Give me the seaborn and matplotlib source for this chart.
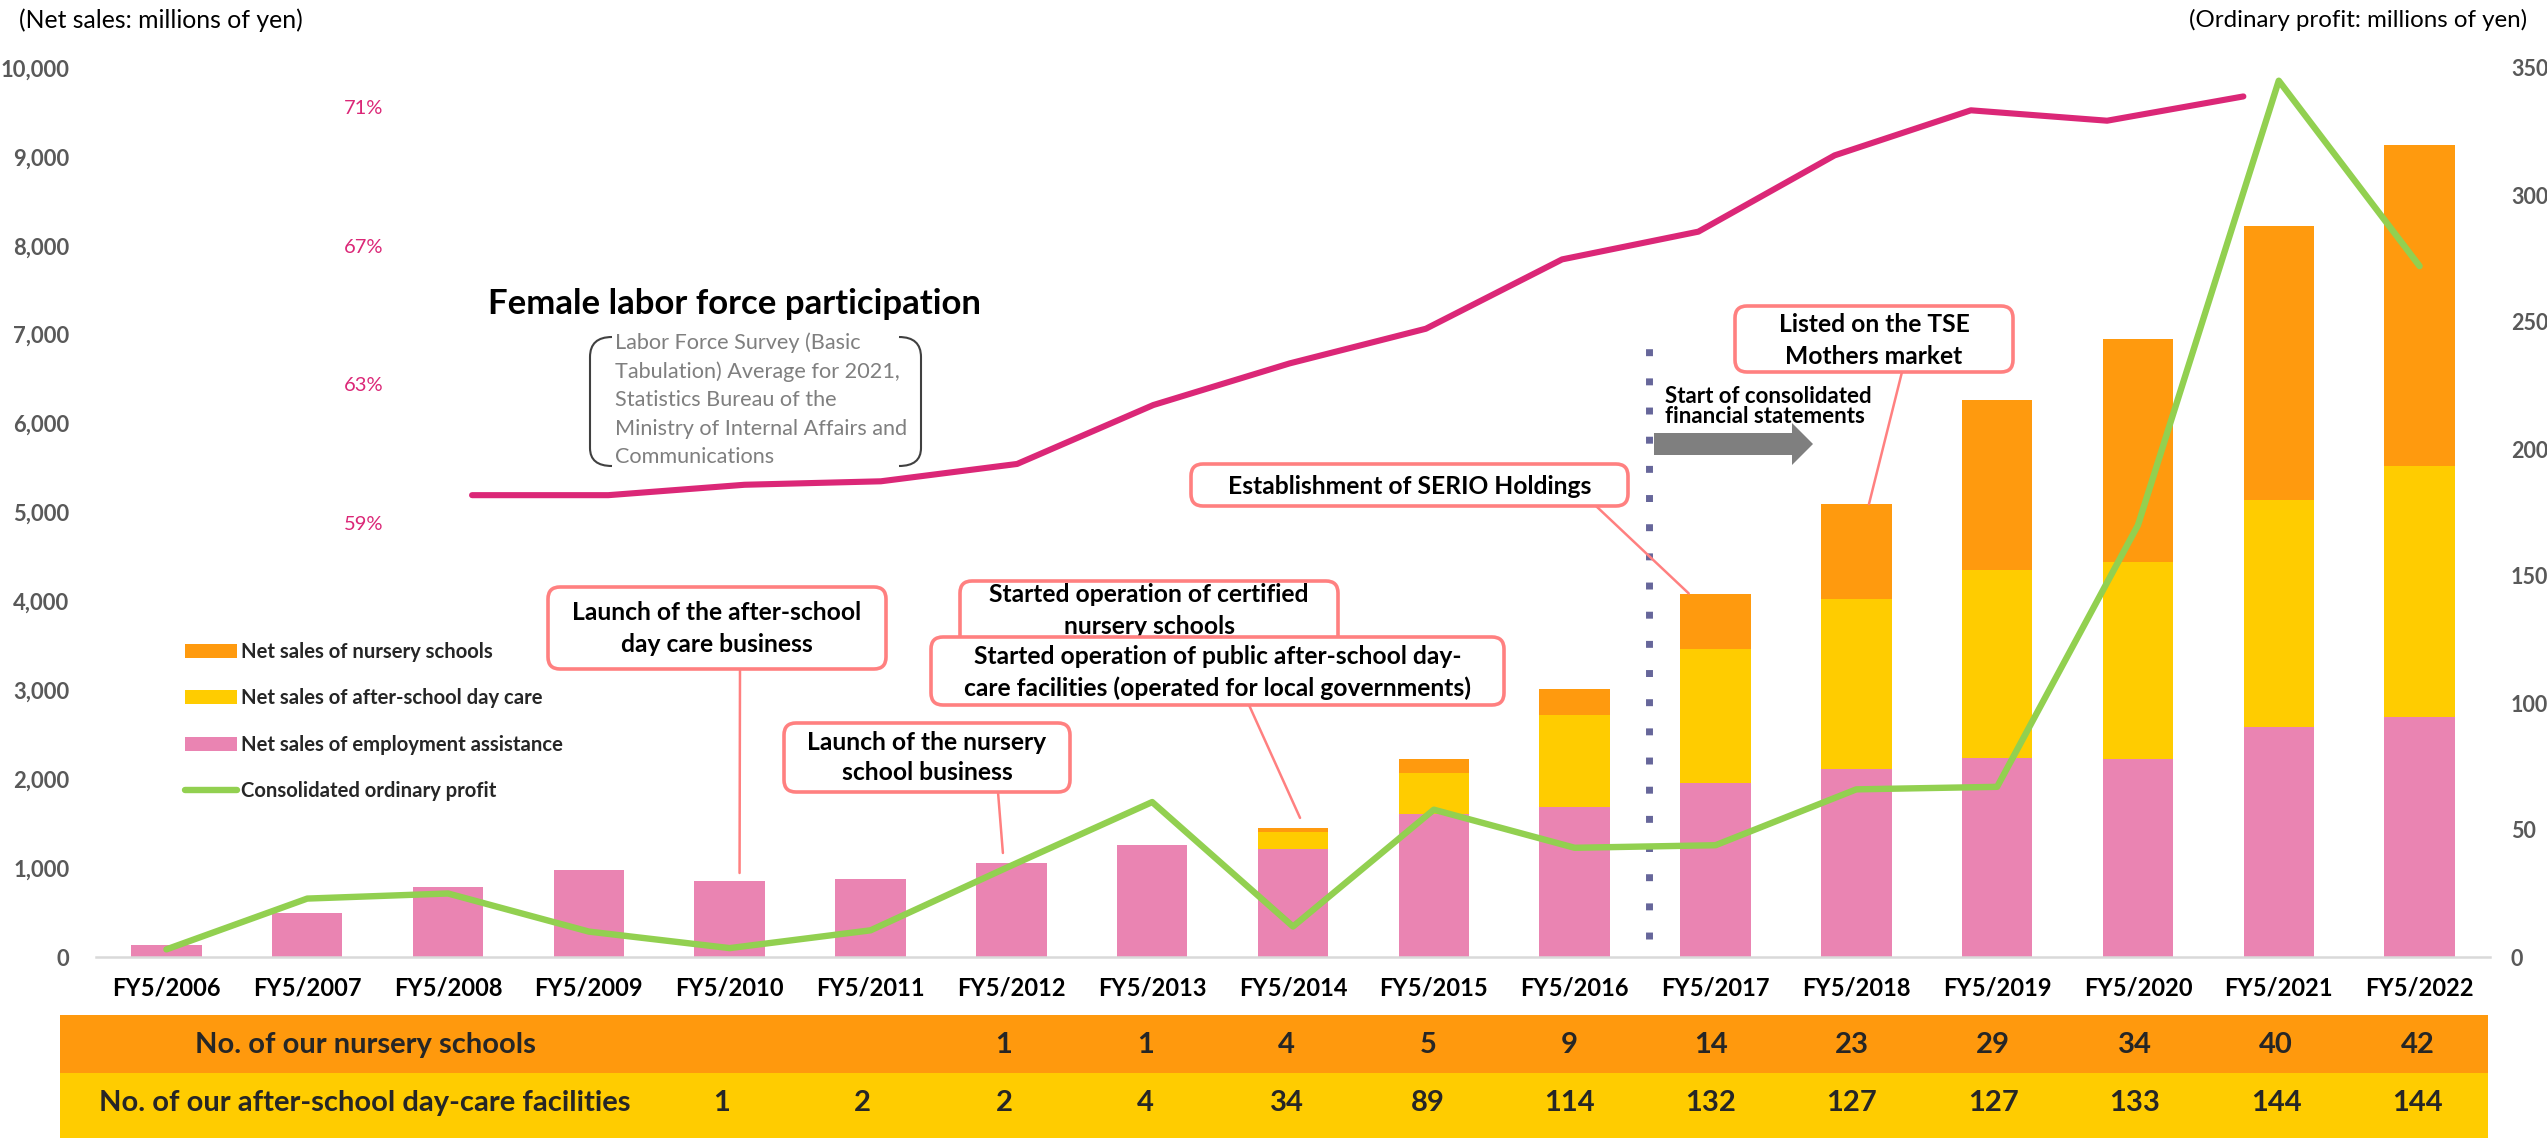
import matplotlib
matplotlib.use("Agg")
import matplotlib.pyplot as plt
import matplotlib.patches as mpatches
import matplotlib.transforms as mtransforms
from matplotlib.path import Path
from matplotlib.lines import Line2D
from matplotlib.ticker import FuncFormatter
from matplotlib import font_manager as fm
import numpy as np
import seaborn as sns

# ---------------------------------------------------------------- data
fiscal_years = ["FY5/2006", "FY5/2007", "FY5/2008", "FY5/2009", "FY5/2010",
                "FY5/2011", "FY5/2012", "FY5/2013", "FY5/2014", "FY5/2015",
                "FY5/2016", "FY5/2017", "FY5/2018", "FY5/2019", "FY5/2020",
                "FY5/2021", "FY5/2022"]
sales_employment = [140, 490, 785, 975, 860, 880, 1060, 1260, 1210, 1610,
                    1690, 1960, 2120, 2240, 2225, 2590, 2700]
sales_afterschool = [0, 0, 0, 0, 0, 0, 0, 0, 200, 465,
                     1030, 1510, 1910, 2110, 2220, 2550, 2820]
sales_nursery = [0, 0, 0, 0, 0, 0, 0, 0, 45, 155,
                 300, 610, 1065, 1915, 2510, 3085, 3610]
ordinary_profit = [3, 23, 25, 10, 3.5, 10.5, 36, 61, 12, 58,
                   43, 44, 66, 67, 170, 345, 272]

labor_years = [2008, 2009, 2010, 2011, 2012, 2013, 2014,
               2015, 2016, 2017, 2018, 2019, 2020, 2021]
female_labor_rate = [59.8, 59.8, 60.1, 60.2, 60.7, 62.4, 63.6,
                     64.6, 66.6, 67.4, 69.6, 70.9, 70.6, 71.3]
labor_ticks = [59, 63, 67, 71]

nursery_count = [None, None, None, None, None, None, 1, 1, 4, 5,
                 9, 14, 23, 29, 34, 40, 42]
afterschool_count = [None, None, None, None, 1, 2, 2, 4, 34, 89,
                     114, 132, 127, 127, 133, 144, 144]

legend_labels = ["Net sales of nursery schools",
                 "Net sales of after-school day care",
                 "Net sales of employment assistance",
                 "Consolidated ordinary profit"]

# ---------------------------------------------------------------- style
PINK_BAR = "#EA84B2"
YELLOW = "#FFCC00"
ORANGE = "#FF9A0E"
GREEN = "#92D050"
MAGENTA = "#DB2777"
SALMON = "#FF8080"
AXIS_GRAY = "#D9D9D9"
TICK_GRAY = "#595959"

sns.set_style("white")
names = {f.name for f in fm.fontManager.ttflist}
BASE = next(n for n in ["Lato", "Open Sans", "Noto Sans", "DejaVu Sans"] if n in names)
plt.rcParams["font.family"] = [BASE, "DejaVu Sans"]
plt.rcParams["font.weight"] = "bold"

W, H, DPI = 2547, 1138, 100
fig = plt.figure(figsize=(W / DPI, H / DPI), dpi=DPI)
fig.patch.set_facecolor("white")

# layout transform: pixel units measured from the top-left corner
PX = mtransforms.Affine2D().scale(1 / DPI, -1 / DPI).translate(0, H / DPI) + fig.dpi_scale_trans


def rect(x0, y_top, x1, y_bot):
    return [x0 / W, 1 - y_bot / H, (x1 - x0) / W, (y_bot - y_top) / H]


PLOT = rect(96, 68, 2490, 957)

# ---------------------------------------------------------------- stacked bars
ax = fig.add_axes(PLOT)
emp = np.array(sales_employment, float)
aft = np.array(sales_afterschool, float)
nur = np.array(sales_nursery, float)
totals = emp + aft + nur

for heights, col in [(totals, ORANGE), (emp + aft, YELLOW), (emp, PINK_BAR)]:
    sns.barplot(x=fiscal_years, y=heights, color=col, saturation=1, width=0.5,
                errorbar=None, linewidth=0, ax=ax)

ax.set_xlim(-0.5, 16.5)
ax.set_ylim(0, 10000)
ax.set_yticks(np.arange(0, 10001, 1000))
ax.yaxis.set_major_formatter(FuncFormatter(lambda v, p: f"{int(v):,}"))
ax.tick_params(axis="y", length=0, pad=19, labelsize=15.8, labelcolor=TICK_GRAY)
ax.tick_params(axis="x", length=0, pad=14, labelsize=17, labelcolor="black")
for s in ["top", "right", "left"]:
    ax.spines[s].set_visible(False)
ax.spines["bottom"].set_color(AXIS_GRAY)
ax.spines["bottom"].set_linewidth(1.8)
ax.set_xlabel("")
ax.set_ylabel("")
ax.grid(False)

# consolidated-statement divider
ax.axvline(10.53, ymin=0.02, ymax=0.688, color="#66669A", lw=5.0,
           linestyle=(0, (1, 3.2)))

# ---------------------------------------------------------------- female labour participation line
ax3 = fig.add_axes(PLOT, frameon=False)
sns.lineplot(x=labor_years, y=female_labor_rate, color=MAGENTA, lw=4.4, ax=ax3)
ax3.set_xlim(2005.24, 2022.81)
ax3.set_ylim(46.48, 72.12)
ax3.xaxis.set_visible(False)
ax3.set_yticks(labor_ticks)
ax3.yaxis.set_major_formatter(FuncFormatter(lambda v, p: f"{int(v)}%"))
ax3.spines["left"].set_position(("axes", 0.1199))
ax3.tick_params(axis="y", length=0, pad=0, labelsize=14.5, labelcolor=MAGENTA)
for lab in ax3.get_yticklabels():
    lab.set_fontweight("normal")
ax3.set_xlabel("")
ax3.set_ylabel("")

# ---------------------------------------------------------------- ordinary profit line (right axis)
ax2 = fig.add_axes(PLOT, frameon=False)
sns.lineplot(x=np.arange(len(fiscal_years)), y=ordinary_profit, color=GREEN,
             lw=4.6, ax=ax2)
ax2.set_xlim(-0.5, 16.5)
ax2.set_ylim(0, 350)
ax2.xaxis.set_visible(False)
ax2.yaxis.tick_right()
ax2.set_yticks(np.arange(0, 351, 50))
ax2.tick_params(axis="y", length=0, pad=15, labelsize=15.5, labelcolor=TICK_GRAY)
ax2.set_xlabel("")
ax2.set_ylabel("")

# ---------------------------------------------------------------- unit captions
fig.text(19, 20, "(Net sales: millions of yen)", transform=PX, ha="left",
         va="center", fontsize=17.8, fontweight="normal", color="black")
fig.text(2527, 20, "(Ordinary profit: millions of yen)", transform=PX, ha="right",
         va="center", fontsize=17.4, fontweight="normal", color="black")

# ---------------------------------------------------------------- legend
handles = [mpatches.Patch(facecolor=ORANGE, edgecolor="none"),
           mpatches.Patch(facecolor=YELLOW, edgecolor="none"),
           mpatches.Patch(facecolor=PINK_BAR, edgecolor="none"),
           Line2D([], [], color=GREEN, lw=4.6)]
fig.legend(handles, legend_labels, loc="upper left",
           bbox_to_anchor=(185 / W, 1 - 642 / H), frameon=False, borderpad=0,
           borderaxespad=0, handlelength=2.55, handleheight=0.7,
           handletextpad=0.2, labelspacing=1.3,
           prop=dict(weight="bold", size=14.6))

# ---------------------------------------------------------------- participation title and source
fig.text(488, 304, "Female labor force participation", transform=PX, ha="left",
         va="center", fontsize=25, fontweight="bold", color="black")
source_lines = ["Labor Force Survey (Basic", "Tabulation) Average for 2021,",
                "Statistics Bureau of the", "Ministry of Internal Affairs and",
                "Communications"]
for i, line in enumerate(source_lines):
    fig.text(615, 343 + i * 28.6, line, transform=PX, ha="left", va="center",
             fontsize=15.6, fontweight="normal", color="#7F7F7F")


def bracket(x_tip, x_edge, y0, y1):
    verts = [(x_tip, y0), (x_edge, y0), (x_edge, y0 + 20), (x_edge, y1 - 18),
             (x_edge, y1), (x_tip, y1)]
    codes = [Path.MOVETO, Path.CURVE3, Path.CURVE3, Path.LINETO, Path.CURVE3, Path.CURVE3]
    fig.add_artist(mpatches.PathPatch(Path(verts, codes), transform=PX, fc="none",
                                      ec="#404040", lw=1.5))


bracket(612, 590, 337, 466)
bracket(899, 921, 337, 466)

# ---------------------------------------------------------------- call-out boxes
z = [5]


def callout(x0, y0, x1, y1, lines, line_ys, size=17.7):
    fig.add_artist(mpatches.FancyBboxPatch(
        (x0, y0), x1 - x0, y1 - y0, boxstyle="round,pad=0,rounding_size=12",
        transform=PX, fc="white", ec=SALMON, lw=2.6, zorder=z[0]))
    cx = (x0 + x1) / 2
    for t, yy in zip(lines, line_ys):
        fig.text(cx, yy, t, transform=PX, ha="center", va="center", fontsize=size,
                 fontweight="bold", color="black", zorder=z[0] + 1)
    z[0] += 2


def leader(x_px, y_px, idx, value):
    fig.add_artist(mpatches.ConnectionPatch(
        xyA=(x_px, y_px), coordsA=PX, xyB=(idx, value), coordsB=ax.transData,
        color=SALMON, lw=1.8, zorder=4))


leader(740, 669, 4 + 0.07, totals[4] + 85)
leader(998, 792, 6 - 0.06, totals[6] + 110)
leader(1249, 705, 8 + 0.05, totals[8] + 110)
leader(1596, 506, 11 - 0.19, totals[11] + 10)
leader(1902, 372, 12 + 0.09, totals[12])

callout(548, 587, 886, 669, ["Launch of the after-school", "day care business"], [613, 645])
callout(784, 723, 1070, 792, ["Launch of the nursery", "school business"], [743, 773])
callout(960, 581, 1338, 660, ["Started operation of certified", "nursery schools"], [595, 627])
callout(931, 637, 1504, 705, ["Started operation of public after-school day-",
                              "care facilities (operated for local governments)"], [657, 688])
callout(1191, 464, 1628, 506, ["Establishment of SERIO Holdings"], [486])
callout(1735, 306, 2013, 372, ["Listed on the TSE", "Mothers market"], [325, 357])

# ---------------------------------------------------------------- consolidated statements marker
fig.text(1665, 403, "Start of consolidated", transform=PX, ha="left", va="baseline",
         fontsize=16, fontweight="bold", color="black", zorder=3)
fig.text(1665, 423, "financial statements", transform=PX, ha="left", va="baseline",
         fontsize=16, fontweight="bold", color="black", zorder=3)
fig.add_artist(mpatches.FancyArrow(1654, 444, 159, 0, width=22, head_width=42,
                                   head_length=21, length_includes_head=True,
                                   transform=PX, color="#7F7F7F", lw=0, zorder=3))

# ---------------------------------------------------------------- facilities table
axt = fig.add_axes(rect(60, 1015, 2488, 1138))
axt.set_xlim(-0.679, 16.50)
axt.set_ylim(0, 1)
axt.axis("off")
split = 65 / 123
axt.axhspan(split, 1, color="#FF990D", lw=0)
axt.axhspan(0, split, color=YELLOW, lw=0)
row_y = [0.755, 0.285]
TABLE_FS = 21
axt.text(1.48, row_y[0], "No. of our nursery schools", ha="center", va="center",
         fontsize=TABLE_FS, fontweight="bold")
axt.text(1.48, row_y[1], "No. of our after-school day-care facilities", ha="center",
         va="center", fontsize=TABLE_FS, fontweight="bold")
for k, (n, a) in enumerate(zip(nursery_count, afterschool_count)):
    if n is not None:
        axt.text(k, row_y[0], str(n), ha="center", va="center", fontsize=TABLE_FS,
                 fontweight="bold")
    if a is not None:
        axt.text(k, row_y[1], str(a), ha="center", va="center", fontsize=TABLE_FS,
                 fontweight="bold")

fig.savefig("out.png", dpi=DPI)
